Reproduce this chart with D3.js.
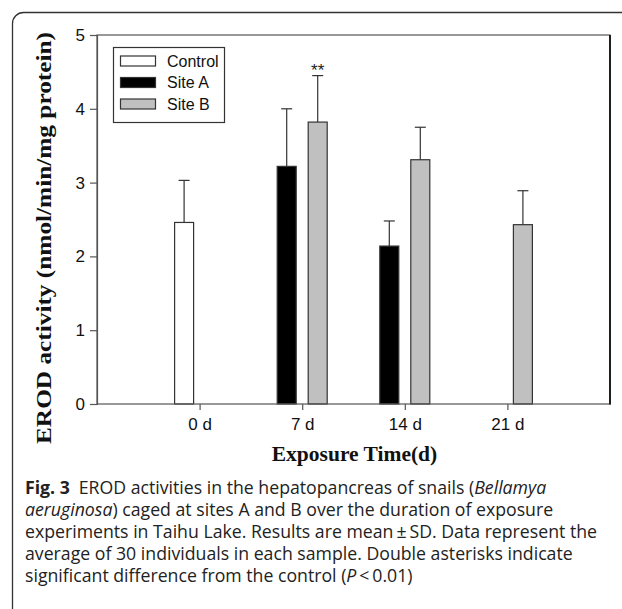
<!DOCTYPE html>
<html><head><meta charset="utf-8">
<script src="https://cdn.jsdelivr.net/npm/d3@7"></script>
<style>
html,body{margin:0;padding:0;background:#fff;}
svg{display:block;}
</style></head>
<body>
<svg id="chart" width="622" height="609"></svg>
<script>
// ---- data ----
const categories = ["0 d", "7 d", "14 d", "21 d"];
const seriesNames = ["Control", "Site A", "Site B"];
const controlMean = [2.46, null, null, null];
const controlSD   = [0.57, null, null, null];
const siteAMean   = [null, 3.22, 2.14, null];
const siteASD     = [null, 0.78, 0.34, null];
const siteBMean   = [null, 3.82, 3.31, 2.43];
const siteBSD     = [null, 0.63, 0.44, 0.46];
const yTicks = [0, 1, 2, 3, 4, 5];
const significance = [{cat: "7 d", series: "Site B", label: "**"}];
const yTitle = "EROD activity (nmol/min/mg protein)";
const xTitle = "Exposure Time(d)";

// ---- style / layout ----
const fills = {"Control": "#ffffff", "Site A": "#000000", "Site B": "#c0c0c0"};
const slots = {"Control": "left", "Site A": "left", "Site B": "right"};
const plot = {left: 97, right: 610, top: 35, bottom: 404};
const SANS = "Liberation Sans, Arial, sans-serif";
const SERIF = "Liberation Serif, Times New Roman, serif";

const svg = d3.select("#chart");

// outer frame (rounded)
svg.append("rect").attr("x", 12.5).attr("y", 12.5).attr("width", 800).attr("height", 800)
  .attr("rx", 11).attr("fill", "none").attr("stroke", "#333").attr("stroke-width", 1.3);

const x = d3.scaleLinear().domain([0, categories.length + 1]).range([plot.left, plot.right]);
const sub = d3.scaleBand().domain(["left", "right"]).range([-25, 25]).paddingInner(0.387).paddingOuter(0);
const y = d3.scaleLinear().domain([0, 5]).range([plot.bottom, plot.top]);

const means = [controlMean, siteAMean, siteBMean];
const sds = [controlSD, siteASD, siteBSD];
const bars = [];
seriesNames.forEach((s, si) => {
  categories.forEach((c, ci) => {
    if (means[si][ci] != null) bars.push({series: s, cat: c, ci, v: means[si][ci], sd: sds[si][ci]});
  });
});
const cx = d => x(d.ci + 1) + sub(slots[d.series]);

// error bars (upper only)
const eb = svg.append("g").attr("stroke", "#333").attr("stroke-width", 1.2);
bars.forEach(d => {
  const xc = cx(d) + sub.bandwidth() / 2;
  eb.append("line").attr("x1", xc).attr("x2", xc).attr("y1", y(d.v)).attr("y2", y(d.v + d.sd));
  eb.append("line").attr("x1", xc - 5.5).attr("x2", xc + 5.5).attr("y1", y(d.v + d.sd)).attr("y2", y(d.v + d.sd));
});

// bars
svg.append("g").selectAll("rect").data(bars).join("rect")
  .attr("x", d => cx(d)).attr("width", sub.bandwidth())
  .attr("y", d => y(d.v)).attr("height", d => y(0) - y(d.v))
  .attr("fill", d => fills[d.series]).attr("stroke", "#333").attr("stroke-width", 1.2);

// significance
significance.forEach(s => {
  const d = bars.find(b => b.cat === s.cat && b.series === s.series);
  svg.append("text").attr("x", cx(d) + sub.bandwidth() / 2).attr("y", y(d.v + d.sd) + 0.5)
    .attr("text-anchor", "middle").attr("font-family", SANS)
    .attr("font-size", 17).attr("fill", "#222").text(s.label);
});

// plot frame
svg.append("rect").attr("x", plot.left).attr("y", plot.top)
  .attr("width", plot.right - plot.left).attr("height", plot.bottom - plot.top)
  .attr("fill", "none").attr("stroke", "#555").attr("stroke-width", 1.2);
svg.append("line").attr("x1", plot.right).attr("x2", plot.right).attr("y1", plot.top).attr("y2", plot.bottom + 0.6)
  .attr("stroke", "#111").attr("stroke-width", 1.8);

// axes
const yAxis = d3.axisLeft(y).tickValues(yTicks).tickFormat(d3.format("d")).tickSize(7).tickPadding(5);
const gy = svg.append("g").attr("transform", `translate(${plot.left},0)`).call(yAxis);
gy.select(".domain").attr("stroke", "#555").attr("stroke-width", 1.2);
gy.selectAll(".tick line").attr("stroke", "#555").attr("stroke-width", 1.2);
gy.selectAll(".tick text").attr("font-family", SANS).attr("font-size", 17).attr("fill", "#111");

const xAxis = d3.axisBottom(x).tickValues(categories.map((c, i) => i + 1))
  .tickFormat(v => categories[v - 1]).tickSize(6).tickPadding(8);
const gx = svg.append("g").attr("transform", `translate(0,${plot.bottom})`).call(xAxis);
gx.select(".domain").remove();
gx.selectAll(".tick line").attr("stroke", "#555").attr("stroke-width", 1.2);
gx.selectAll(".tick text").attr("font-family", SANS).attr("font-size", 17).attr("fill", "#111");

// axis titles
svg.append("text").attr("transform", "translate(51,238) rotate(-90)").attr("text-anchor", "middle")
  .attr("font-family", SERIF).attr("font-weight", "bold")
  .attr("font-size", 22).attr("fill", "#111")
  .attr("textLength", 412).attr("lengthAdjust", "spacingAndGlyphs").text(yTitle);
svg.append("text").attr("x", (plot.left + plot.right) / 2 + 1).attr("y", 461).attr("text-anchor", "middle")
  .attr("font-family", SERIF).attr("font-weight", "bold")
  .attr("font-size", 21.5).attr("fill", "#111").text(xTitle);

// legend
const lg = svg.append("g");
lg.append("rect").attr("x", 113.5).attr("y", 47.5).attr("width", 111).attr("height", 75)
  .attr("fill", "#fff").attr("stroke", "#333").attr("stroke-width", 1.2);
seriesNames.forEach((s, i) => {
  const yc = 61 + i * 21.5;
  lg.append("rect").attr("x", 120.5).attr("y", yc - 5).attr("width", 35).attr("height", 10)
    .attr("fill", fills[s]).attr("stroke", "#333").attr("stroke-width", 1.2);
  lg.append("text").attr("x", 167).attr("y", yc).attr("dy", "0.36em")
    .attr("font-family", SANS).attr("font-size", 16).attr("fill", "#111").text(s);
});

// caption
const capLines = [
  [{t: "Fig. 3", b: true}, {t: "\u2002EROD activities in the hepatopancreas of snails ("}, {t: "Bellamya", i: true}],
  [{t: "aeruginosa", i: true}, {t: ") caged at sites A and B over the duration of exposure"}],
  [{t: "experiments in Taihu Lake. Results are mean\u2009\u00b1\u2009SD. Data represent the"}],
  [{t: "average of 30 individuals in each sample. Double asterisks indicate"}],
  [{t: "significant difference from the control ("}, {t: "P", i: true}, {t: "\u2009<\u20090.01)"}]
];
const capBase = [494, 516, 538, 560, 582];
const capTexts = capLines.map((line, li) => {
  const t = svg.append("text").attr("x", 25).attr("y", capBase[li])
    .attr("font-family", "Open Sans, Noto Sans, sans-serif").attr("font-size", 17.5).attr("fill", "#222");
  line.forEach(p => {
    t.append("tspan").attr("font-weight", p.b ? "bold" : null).attr("font-style", p.i ? "italic" : null).text(p.t);
  });
  return t;
});
// condense uniformly so the longest line (line 3) spans to x = 597
const f = (597 - 25) / capTexts[2].node().getComputedTextLength();
capTexts.forEach(t => {
  const w = t.node().getComputedTextLength();
  t.attr("textLength", w * f).attr("lengthAdjust", "spacingAndGlyphs");
});
</script>
</body></html>
